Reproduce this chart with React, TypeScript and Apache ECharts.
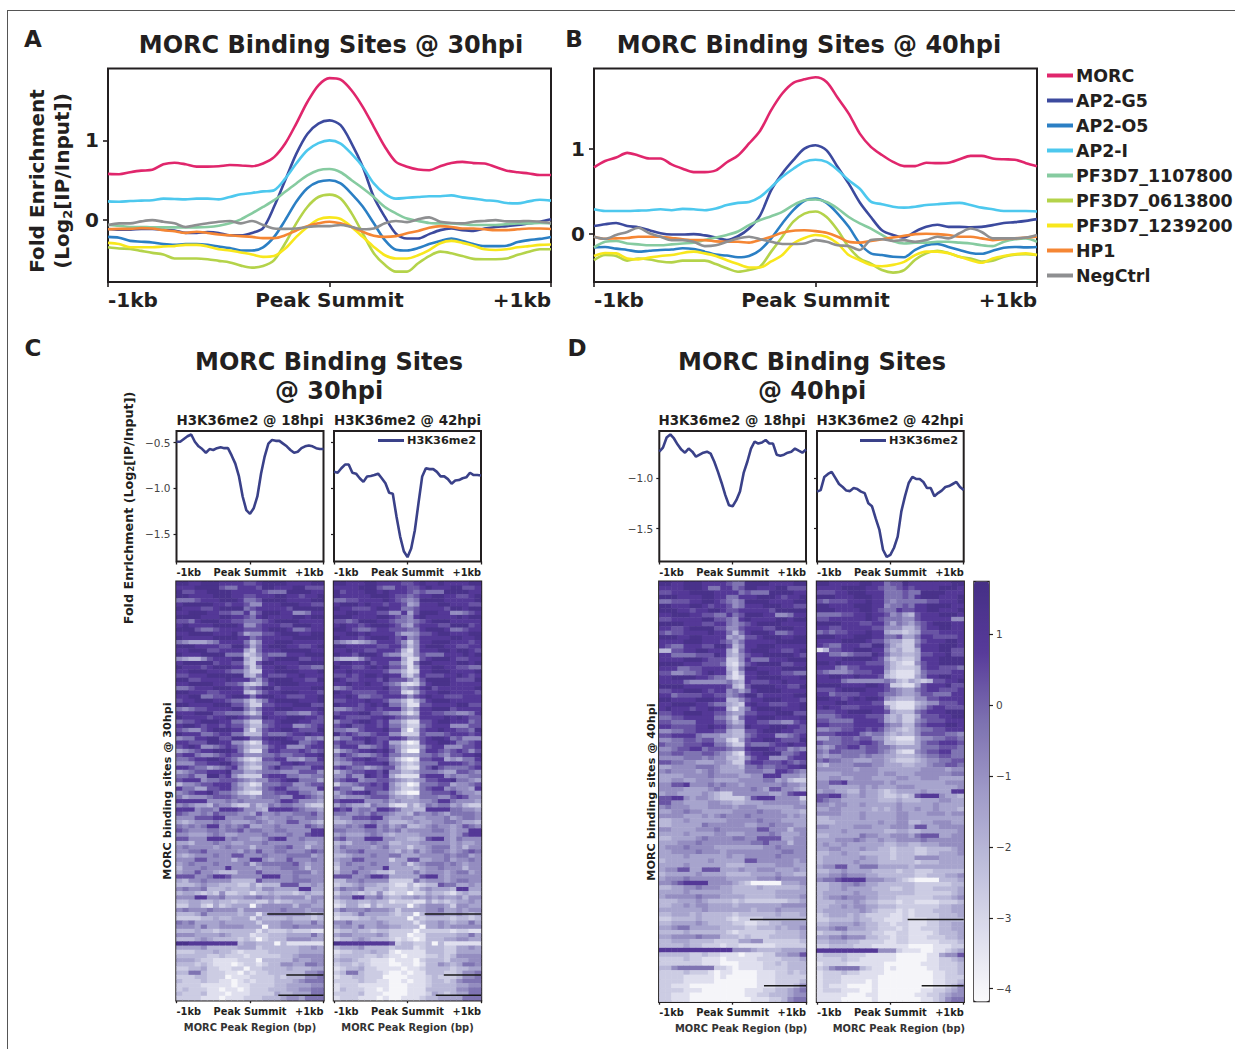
import React, { useEffect, useRef } from "react";
import * as echarts from "echarts";

const FONT = '"DejaVu Sans", sans-serif';
const INK = "#231f20";

const seriesNames = ["MORC","AP2-G5","AP2-O5","AP2-I","PF3D7_1107800","PF3D7_0613800","PF3D7_1239200","HP1","NegCtrl"];
const seriesColors = ["#e0266c","#3c4a9e","#2b7fc4","#4dc8ee","#86cba0","#b4d34a","#f8e71c","#f58634","#8e8f91"];

const a_MORC = [0.58,0.575,0.60,0.62,0.63,0.70,0.72,0.70,0.67,0.67,0.675,0.69,0.685,0.675,0.71,0.79,0.96,1.21,1.48,1.69,1.78,1.76,1.625,1.42,1.17,0.92,0.73,0.67,0.635,0.625,0.675,0.715,0.73,0.715,0.71,0.665,0.62,0.60,0.585,0.565,0.565];
const a_G5 = [-0.11,-0.12,-0.12,-0.11,-0.11,-0.12,-0.13,-0.16,-0.16,-0.15,-0.16,-0.19,-0.19,-0.16,-0.10,0.17,0.5,0.83,1.08,1.21,1.25,1.19,0.96,0.67,0.29,0.04,-0.17,-0.23,-0.23,-0.175,-0.125,-0.105,-0.125,-0.135,-0.105,-0.085,-0.075,-0.06,-0.04,-0.02,0.01];
const a_O5 = [-0.21,-0.22,-0.26,-0.27,-0.28,-0.30,-0.31,-0.30,-0.30,-0.31,-0.33,-0.35,-0.38,-0.38,-0.34,-0.21,0,0.23,0.40,0.48,0.50,0.46,0.33,0.17,-0.04,-0.25,-0.37,-0.38,-0.35,-0.30,-0.26,-0.23,-0.26,-0.30,-0.325,-0.325,-0.32,-0.275,-0.25,-0.235,-0.21];
const a_I = [0.235,0.23,0.24,0.245,0.25,0.27,0.265,0.26,0.27,0.27,0.26,0.29,0.325,0.34,0.36,0.375,0.52,0.71,0.875,0.965,1.0,0.96,0.83,0.67,0.46,0.33,0.27,0.28,0.29,0.30,0.30,0.31,0.285,0.27,0.25,0.24,0.215,0.21,0.235,0.255,0.245];
const a_1107800 = [-0.06,-0.07,-0.085,-0.085,-0.09,-0.09,-0.09,-0.09,-0.09,-0.085,-0.07,-0.04,0.01,0.085,0.165,0.25,0.355,0.46,0.56,0.625,0.64,0.60,0.50,0.40,0.29,0.165,0.085,0.02,-0.01,-0.035,-0.04,-0.04,-0.05,-0.06,-0.06,-0.06,-0.05,-0.04,-0.04,-0.035,-0.04];
const a_0613800 = [-0.34,-0.355,-0.36,-0.385,-0.41,-0.43,-0.48,-0.48,-0.48,-0.49,-0.51,-0.53,-0.57,-0.595,-0.575,-0.5,-0.29,-0.04,0.165,0.29,0.32,0.27,0.085,-0.165,-0.415,-0.56,-0.645,-0.645,-0.54,-0.45,-0.395,-0.415,-0.45,-0.485,-0.49,-0.49,-0.48,-0.435,-0.395,-0.365,-0.365];
const a_1239200 = [-0.285,-0.30,-0.34,-0.34,-0.34,-0.33,-0.325,-0.31,-0.31,-0.33,-0.365,-0.38,-0.405,-0.43,-0.46,-0.45,-0.355,-0.21,-0.085,0.01,0.035,0.015,-0.085,-0.21,-0.335,-0.44,-0.48,-0.48,-0.44,-0.375,-0.29,-0.26,-0.285,-0.32,-0.365,-0.375,-0.365,-0.34,-0.325,-0.31,-0.305];
const a_HP1 = [-0.115,-0.11,-0.11,-0.10,-0.105,-0.125,-0.14,-0.16,-0.145,-0.16,-0.18,-0.19,-0.20,-0.21,-0.225,-0.225,-0.19,-0.13,-0.075,-0.04,-0.02,-0.04,-0.085,-0.145,-0.195,-0.21,-0.2,-0.165,-0.135,-0.095,-0.075,-0.085,-0.105,-0.105,-0.115,-0.125,-0.125,-0.115,-0.105,-0.105,-0.11];
const a_Neg = [-0.06,-0.04,-0.04,-0.015,0,-0.02,-0.04,-0.085,-0.06,-0.04,-0.02,-0.01,-0.04,-0.01,-0.06,-0.105,-0.11,-0.105,-0.085,-0.075,-0.075,-0.06,-0.085,-0.115,-0.105,-0.04,-0.01,-0.025,0.01,0.035,-0.02,-0.035,-0.04,-0.02,-0.01,0,-0.015,-0.015,-0.01,-0.02,-0.035];

const b_MORC = [0.78,0.855,0.895,0.95,0.92,0.885,0.885,0.815,0.765,0.725,0.725,0.745,0.84,0.92,1.06,1.21,1.45,1.645,1.77,1.81,1.835,1.78,1.595,1.41,1.175,1.02,0.925,0.845,0.795,0.795,0.835,0.83,0.835,0.875,0.915,0.915,0.885,0.875,0.87,0.83,0.795];
const b_G5 = [0.095,0.115,0.13,0.095,0.08,0.045,0.01,-0.005,-0.005,0,-0.015,-0.04,-0.07,-0.025,0.065,0.22,0.515,0.71,0.865,1.0,1.04,0.98,0.785,0.59,0.37,0.2,0.045,-0.01,-0.04,0.03,0.085,0.11,0.085,0.085,0.08,0.085,0.105,0.13,0.14,0.155,0.175];
const b_O5 = [-0.155,-0.15,-0.17,-0.185,-0.205,-0.195,-0.185,-0.18,-0.165,-0.175,-0.205,-0.24,-0.25,-0.27,-0.255,-0.185,-0.05,0.125,0.28,0.39,0.415,0.365,0.24,0.085,-0.11,-0.225,-0.245,-0.265,-0.27,-0.185,-0.13,-0.115,-0.15,-0.185,-0.22,-0.23,-0.195,-0.16,-0.15,-0.155,-0.15];
const b_I = [0.29,0.27,0.27,0.27,0.275,0.28,0.29,0.28,0.295,0.29,0.28,0.30,0.34,0.365,0.375,0.435,0.55,0.67,0.765,0.845,0.87,0.845,0.75,0.63,0.53,0.38,0.35,0.32,0.31,0.32,0.34,0.35,0.36,0.365,0.34,0.31,0.29,0.27,0.27,0.27,0.265];
const b_1107800 = [-0.155,-0.09,-0.08,-0.11,-0.12,-0.13,-0.13,-0.12,-0.11,-0.10,-0.07,-0.04,-0.01,0.03,0.105,0.165,0.21,0.26,0.34,0.395,0.405,0.375,0.30,0.20,0.125,0.065,-0.01,-0.08,-0.11,-0.10,-0.10,-0.09,-0.09,-0.10,-0.11,-0.13,-0.14,-0.09,-0.06,-0.05,-0.09];
const b_0613800 = [-0.305,-0.245,-0.255,-0.31,-0.285,-0.295,-0.32,-0.33,-0.31,-0.31,-0.31,-0.35,-0.40,-0.44,-0.42,-0.38,-0.205,-0.03,0.145,0.24,0.265,0.2,0.045,-0.15,-0.285,-0.345,-0.42,-0.45,-0.42,-0.30,-0.225,-0.195,-0.22,-0.265,-0.285,-0.32,-0.31,-0.265,-0.24,-0.235,-0.245];
const b_1239200 = [-0.255,-0.22,-0.225,-0.285,-0.295,-0.275,-0.255,-0.245,-0.22,-0.205,-0.225,-0.255,-0.305,-0.35,-0.39,-0.39,-0.32,-0.245,-0.11,-0.045,-0.01,-0.03,-0.11,-0.245,-0.305,-0.36,-0.375,-0.36,-0.325,-0.245,-0.205,-0.205,-0.225,-0.265,-0.305,-0.335,-0.285,-0.255,-0.235,-0.225,-0.245];
const b_HP1 = [-0.03,-0.055,-0.05,-0.045,-0.03,-0.03,-0.03,-0.045,-0.06,-0.07,-0.07,-0.085,-0.09,-0.09,-0.10,-0.07,-0.03,0.015,0.04,0.045,0.035,0.015,-0.03,-0.09,-0.10,-0.08,-0.06,-0.04,-0.02,0,0.005,0,-0.01,-0.03,-0.03,-0.05,-0.07,-0.06,-0.05,-0.04,-0.03];
const b_Neg = [-0.03,-0.055,-0.01,0.025,0.075,0.01,-0.03,-0.07,-0.07,-0.09,-0.14,-0.13,-0.09,-0.05,-0.03,-0.06,-0.09,-0.115,-0.115,-0.11,-0.07,-0.09,-0.13,-0.14,-0.185,-0.07,-0.06,-0.08,-0.07,-0.09,-0.07,-0.03,-0.05,0.01,0.065,0.025,-0.05,-0.05,-0.05,-0.04,-0.01];

const c18Line = [-0.49,-0.49,-0.46,-0.43,-0.41,-0.49,-0.54,-0.57,-0.61,-0.57,-0.58,-0.56,-0.55,-0.56,-0.56,-0.64,-0.73,-0.87,-1.09,-1.24,-1.28,-1.22,-1.09,-0.84,-0.65,-0.51,-0.47,-0.48,-0.48,-0.51,-0.54,-0.58,-0.61,-0.60,-0.56,-0.54,-0.53,-0.54,-0.56,-0.57,-0.57];
const c42Line = [-0.82,-0.83,-0.78,-0.74,-0.74,-0.83,-0.84,-0.89,-0.93,-0.87,-0.865,-0.855,-0.84,-0.89,-0.945,-1.05,-1.06,-1.31,-1.53,-1.69,-1.755,-1.66,-1.46,-1.16,-0.87,-0.78,-0.79,-0.79,-0.82,-0.87,-0.87,-0.90,-0.95,-0.915,-0.91,-0.89,-0.88,-0.83,-0.855,-0.855,-0.86];
const d18Line = [-0.74,-0.70,-0.60,-0.57,-0.61,-0.67,-0.72,-0.75,-0.71,-0.74,-0.79,-0.77,-0.75,-0.74,-0.76,-0.84,-0.94,-1.05,-1.17,-1.27,-1.28,-1.22,-1.135,-0.95,-0.84,-0.71,-0.64,-0.66,-0.65,-0.625,-0.66,-0.66,-0.77,-0.78,-0.77,-0.75,-0.74,-0.71,-0.73,-0.75,-0.72];
const d42Line = [-1.135,-1.12,-0.99,-0.96,-0.94,-1.0,-1.06,-1.09,-1.125,-1.13,-1.10,-1.11,-1.135,-1.15,-1.25,-1.28,-1.40,-1.51,-1.71,-1.78,-1.76,-1.69,-1.58,-1.33,-1.18,-1.05,-0.99,-1.01,-1.01,-1.04,-1.10,-1.10,-1.18,-1.15,-1.125,-1.09,-1.08,-1.06,-1.04,-1.09,-1.12];

const heatLevels = [-4.0,-3.3,-2.7,-2.1,-1.5,-0.9,-0.3,0.3,0.9,1.5];
const colorStops = ["#fafafc","#dcdcec","#bcbcda","#9f9ac8","#7d71b0","#573a9a","#452f85"];

const heatC18 = [
"998899988887789999888899","888999976688879988899777","977889999888887666999988","998888999887788899887889","666788899986679999888899",
"899999887887558889998877","988877899996788888799999","889998877668579998855688","999988899887689888899899","776899988776667899998888",
"898888999985578887799988","999766788887778999866788","889999888974557789998899","988888999988678888899999","654445688886358899988888",
"999888877997468999887789","889997788884268889999988","988899996662357666888999","543357888994237899997788","899999788773279988889999",
"988878999885258899887766","889998887664228899998889","778889999994368777889888","997788889888647999988779","889999887763236899998888",
"667888999885679978888899","998887788883257889998887","889966778998689988777889","788999887664246899998889","998888999775227788899977",
"656778888996468899988889","888999776664248877665578","988887889987669888999887","677899988664227789998877","899878878775336788855678",
"765578999884147889987779","988866788663337666788988","566889977998668999877565","887779988553127889996678","789855678764335788555788",
"456788999863116887778767","788655678775556676677889","667889987642127788554668","555778899764346668898777","887664567853226797766688",
"456778889664456665557775","667559978532227888665566","788856677765455778996664","355677888643126667755677","866447788653346788665558",
"567889766532116677886654","645556777655456665588765","888885556565555568875554","565443655322534656655322","888566588875543888876554",
"765565766655475565566675","555777885556654555655665","434555655444565455775543","656568856567445565555765","765556656675665566555588",
"554445654455556555655788","775558885655445788556555","443555655445556555555445","565555456555355566755355","556675555546575566555676",
"434555655775556555666645","555775555355885455755565","456555655556356666675455","355565558555545556665355","455755433355575555566645",
"777556887555558885565555","435565555333375555566655","333454433322423337774454","565563334333435544448844","344323252233133433323433",
"555885564445565545555355","334433433233322423344454","224421423444045555535544","565556555535555556555455","333464444434414555555434",
"222233433444143333433323","656444454444424445544464","555464455554440445565555","333433233333313222322211","555444454333122333444464",
"333454333323202333555544","998888888834433303111111","444453333344423333334454","222333433212222333334444","333332232221222223345555",
"444322111122203333354455","333232111012212335544665","223342211220223333433344","336632221102122333333556","222332220111222232333556",
"322232211012122233345666","222211111011222233444455","232221101101222333445566","322231110111222243344466","222211101112223334554666"];

const heatC42 = [
"998889988887789889888899","888899976688778988899778","978889989888767666999988","988888999877678899887789","667788889876569999888889",
"899989887887458889988877","988777899886678888799899","889988877558479998855678","999888899876589888889899","776799988766567899988888",
"898878999875478887799978","998766788777668999866788","889989888864457789988899","988878999878568888899889","654345688875258899988878",
"998888877886358999887788","889887788873158889989987","988799986552257666888989","433357888884127899987788","899889788663169988889989",
"988778989775148899887766","889888887553128899988889","778789989884258777889878","987788879777537999987779","889889887652126899988888",
"567888889774568978888889","988777788772147889988887","889866778887578988777888","778889887553136899988888","988878989664117788889977",
"556778878885358899978888","788899776553138877665568","987777889876558888989877","577899878553117789988867","789778878664226788855577",
"665578889773037889887769","978766788552227666788878","466889877887557899867555","787779878442017889986678","688855678653225788555778",
"356788989752006887678757","687655678664446676577889","567889877531017788454668","455778889653236668888767","787664567742116797666678",
"356778879553346665447765","557559878421117888565566","678856677654345778896654","255677878532016667745567","766447778542236788565548",
"467889766421006677786554","545556777544346665578755","788885556454445568865554","465443655211424656645322","878566588764433888866554",
"665565766544365565466665","455777885445544555645665","334555655333454455665443","556568856456334565545765","665556656564555566545588",
"454445654344445555545788","675558885544334788546555","343555655334445555545445","465555456444244566645355","456675555435464566545676",
"334555655664445555656645","455775555244774455645565","356555655445245666565455","255565558444434556555355","355755433244464555456645",
"777556887444447885455555","335565555222264555456655","233454433211312337664454","465563334222324544438844","244323252122022433213433",
"455885564334454545445355","234433433122211423234454","124421423333034555425544","465556555424444556445455","233464444323303555445434",
"122233433333032333323323","556444454333313445434464","455464455443330445455555","233433233222202222212211","455444454222011333334464",
"233454333212101333445544","988888888723322303111111","344453333233312333224454","122333433101111333224444","233332232110111223235555",
"344322111011102333244455","233232111001101335434665","123342211110112333323344","236632221001011333223556","122332220000111232223556",
"222232211001011233235666","122211111000111233334455","132221101000111333335566","222231110000111243234466","122211101001112334444666"];

const heatD18 = [
"998899988887669999888899","888899986688679988899777","778889999888867666999988","999888899886688899987889","667778899876569999888899",
"998889987887568889998877","999887889987788888799999","889998877668679998855688","778888899776589888899899","999988877886567899998888",
"887789999775578887799988","767788889886368999866788","999889988884547789998899","888899988876468888899999","876688877997358899988888",
"337788998884268999887789","886666777984357889999987","888899987772258666888999","999988877762147899997788","888667788883269988889999",
"775566789884148899887766","889999887663128899998889","888865555556438777889888","999988888887327999988779","778899987885646899998888",
"886777788775679978888899","998888999883357889998887","889999887664328988777889","898887889883146899998889","778899988775447788899977",
"667788888664268899988889","776666888775348877665578","887777889886559888999887","556677888774337789998877","778888655544336788855678",
"556677677552147889987779","766677788664227666788988","556778867776558999877565","667766677654217889996678","555566656553325788555788",
"776655444554227887778767","445555666544436676677889","565555456544446665588765","444455556555544558885554","445544555444455556645322",
"557785556565545555556554","555544445655555654775543","455444454322555555445788","778854554322224788855552","775544445544334445555554",
"565554445555455544444455","445565544444555565554443","555544454565556555555454","334454444445555565554444","334444465555554455655544",
"554444555655555577555355","444454444554445555654445","334444565555665577774455","444555655555555667555355","455565555444444445565555",
"445555655545555555556655","444454444445445555565555","344444445444447755555545","444454444443334444455544","455774477744454455544454",
"344444544443333444454433","455565555554444455565555","556788885555432000004445","334455655544333343333334","444454444444333333344444",
"455555655544443333344445","333444543333232222222334","334454554444344444445555","444444454444444344454444","334443433333233333343334",
"223333433332122223333333","334444543333221122334444","445664444433332233343445","333343333332122222233334","445555655533323222333334",
"334443333222244552222223","333343322212211111122222","888888888888555433334444","333332232211101112244557",
"222232211101111122223334","222222211100011112232333","335666666221011112222333","222232221011000011122323",
"222211111010000011122222","222211111000000011122223","221110000000000011122235","222211100000001112233456",
"221110000000001122333455","221110000000000111223566"];

const heatD42 = [
"998888899886779888888899","888899998876678788889998","777889998886667669999888","999888999886667689998889","767778889886566666778889",
"998888999885667688999988","999888899876687788998889","666677889887564378889998","778888889876665578888855","999988877886465467899988",
"887788888775553357889988","676778889884332347778888","999888999886674468877778","888899998775442257888998","876688877996432268889998",
"137788999885342248889977","886656777986443347788977","888899999874232248889999","998988887775321157889999","888657788885322237887776",
"765556777884211136777788","889988988873211146889988","888865555556532432377889","999988889987221147888977","777899998887654467887778",
"886777788876654457766688","998878989985433355778888","888998888772211134557778","898877788885211145788777","777889999887433367888999",
"666788887774342247778899","776666888874342256777888","887777888886553367888998","556677887875432356677888","777888865664343357777665",
"446677677553211145566776","766677788763322246778887","545778867766544446667776","657766667765421156778866","545566656554433345667766",
"676655444554322234556677","435555666554443344566776","555555455544444445555455","444455555545544455555566","445544555444455445554444",
"557785555554544444444555","554444454544455544444445","455443354432344445444488","778854454432232378885443","765544444433343334445544",
"554554454444454444454444","445544444343454454454443","555544454444455444555455","334444454444455444444444","333444444454455334455544",
"554444555444555477445555","444454444443344334444445","334444465544555467774455","444555654454455556555555","454454444443344334445555",
"445544454433233322333345","334454433333233322334445","344444454433233355554444","344444544433333323334444","455774466644444344444444",
"334454444333323322233333","445565554433333322333445","566788885554432100003334","334455654433333322222233","334454444333223322233334",
"344444544433333322222234","345565554433322222233345","333444543322212211112223","334454554433322222223344","344444454322212122233344",
"234443432222112122223334","223333433221112111223333","334444543322122111223344","445664443322212112223344","233343333221122111123334",
"445565553322122111222334","334443322221122111112223","223333222111111000011122","888888888855521110011234",
"233332221111100000114557","222232211111100000112234","122221111110000001112223","235666632110100000112223",
"122232211110000000011223","122211111100000000011222","122211110100000000011223","121110000100000000011235","122211100100000001122345",
"111110001100000011223455","111100000100000001123566"];

// unmapped stretches: [start bp, end bp, depth in % of the rows]
const gapsC18 = [[234,1000,79.4],[494,1000,94],[385,1000,98.8]];
const gapsC42 = [[234,1000,79.4],[494,1000,94],[385,1000,98.8]];
const gapsD18 = [[236,1000,80.4],[427,1000,96.2]];
const gapsD42 = [[236,1000,80.4],[427,1000,96.2]];

const colorbarTicks = [1,0,-1,-2,-3,-4];
const xPos = a_MORC.map((_, i) => -1000 + i * 50);
const pts = (v: number[]) => v.map((y, i) => [xPos[i], y]);
const kb = (v: number) => (v === -1000 ? "-1kb" : v === 0 ? "Peak Summit" : "+1kb");
const kbVals = [-1000, 0, 1000];
const minus = (d: number) => (v: number) => v.toFixed(d).replace("-", "\u2212");

function buildOption() {
  const grid: any[] = [], xAxis: any[] = [], yAxis: any[] = [], series: any[] = [];
  const heatIdx: number[] = [];
  const frame = (l: number, t: number, w: number, h: number, bw = 2) => {
    grid.push({ left: l, top: t, width: w, height: h, show: true, borderColor: INK, borderWidth: bw, backgroundColor: "transparent" });
    return grid.length - 1;
  };
  const noLine = { show: false, onZero: false };
  const kbAxis = (g: number, size: number, margin: number, tick: number, name?: string, pad = 0) => ({
    type: "value", gridIndex: g, position: "bottom", min: -1000, max: 1000,
    axisLine: noLine, splitLine: { show: false },
    axisTick: { show: true, length: tick, customValues: kbVals, lineStyle: { color: INK, width: size > 12 ? 1.6 : 1.3 } },
    axisLabel: { show: true, customValues: kbVals, formatter: kb, margin, alignMinLabel: "left", alignMaxLabel: "right", color: INK, fontFamily: FONT, fontWeight: "bold", fontSize: size, hideOverlap: false, showMinLabel: true, showMaxLabel: true },
    name, nameLocation: "middle", nameGap: 22,
    nameTextStyle: { color: "#333", fontFamily: FONT, fontWeight: "bold", fontSize: 9.9, padding: [0, 0, 0, pad] },
  });

  const enrichment = (l: number, t: number, w: number, h: number, min: number, max: number, ticks: number[], lists: number[][]) => {
    const g = frame(l, t, w, h);
    xAxis.push(kbAxis(g, 20, 8, 5));
    yAxis.push({ type: "value", gridIndex: g, min, max, splitLine: { show: false }, axisLine: noLine,
      axisTick: { show: true, length: 5, customValues: ticks, lineStyle: { color: INK, width: 1.6 } },
      axisLabel: { customValues: ticks, margin: 9, color: INK, fontFamily: FONT, fontWeight: "bold", fontSize: 20 } });
    lists.forEach((v, i) => series.push({ type: "line", name: seriesNames[i], xAxisIndex: xAxis.length - 1, yAxisIndex: yAxis.length - 1,
      data: pts(v), smooth: 0.3, symbol: "none", silent: true, lineStyle: { color: seriesColors[i], width: 2.6 }, itemStyle: { color: seriesColors[i] } }));
  };
  enrichment(108, 68.5, 443, 213.5, -0.775, 1.9, [0, 1], [a_MORC, a_G5, a_O5, a_I, a_1107800, a_0613800, a_1239200, a_HP1, a_Neg]);
  enrichment(594, 68.5, 443, 213.5, -0.56, 1.937, [0, 1], [b_MORC, b_G5, b_O5, b_I, b_1107800, b_0613800, b_1239200, b_HP1, b_Neg]);

  const profile = (l: number, w: number, min: number, max: number, ticks: number[], labelled: boolean, v: number[]) => {
    const g = frame(l, 431, w, 130.5);
    xAxis.push(kbAxis(g, 9.8, 6, 3));
    yAxis.push({ type: "value", gridIndex: g, min, max, splitLine: { show: false }, axisLine: noLine,
      axisTick: { show: true, length: 3, customValues: ticks, lineStyle: { color: INK, width: 1.2 } },
      axisLabel: { show: labelled, customValues: ticks, formatter: minus(1), margin: 6, color: "#444", fontFamily: FONT, fontSize: 10.5 } });
    series.push({ type: "line", name: "H3K36me2", xAxisIndex: xAxis.length - 1, yAxisIndex: yAxis.length - 1, data: pts(v), symbol: "none", silent: true,
      lineStyle: { color: "#3a4189", width: 2.6 }, itemStyle: { color: "#3a4189" } });
  };
  profile(176.5, 147, -1.803, -0.372, [-0.5, -1, -1.5], true, c18Line);
  profile(334, 147, -1.803, -0.372, [-0.5, -1, -1.5], false, c42Line);
  profile(659.3, 146.7, -1.826, -0.536, [-1, -1.5], true, d18Line);
  profile(817, 146.7, -1.826, -0.536, [-1, -1.5], false, d42Line);

  const heat = (l: number, w: number, h: number, rows: string[], gaps: number[][], pad: number) => {
    const g = frame(l, 581.7, w, h, 2.4);
    const cols = rows[0].length;
    const catX = xAxis.length;
    xAxis.push({ type: "category", gridIndex: g, show: false, data: Array.from({ length: cols }, (_, i) => i) });
    const catY = yAxis.length;
    yAxis.push({ type: "category", gridIndex: g, show: false, inverse: true, data: rows.map((_, i) => i) });
    const data: number[][] = [];
    rows.forEach((r, y) => { for (let x = 0; x < cols && x < r.length; x++) data.push([x, y, heatLevels[+r[x]]]); });
    heatIdx.push(series.length);
    series.push({ type: "heatmap", xAxisIndex: catX, yAxisIndex: catY, data, progressive: 0, silent: true, itemStyle: { borderWidth: 0 } });
    const valX = xAxis.length;
    xAxis.push(kbAxis(g, 9.8, 6, 3, "MORC Peak Region (bp)", pad));
    const valY = yAxis.length;
    yAxis.push({ type: "value", gridIndex: g, show: false, inverse: true, min: 0, max: 100, splitLine: { show: false } });
    gaps.forEach((s) => series.push({ type: "line", name: "gap", xAxisIndex: valX, yAxisIndex: valY, data: [[s[0], s[2]], [s[1], s[2]]], symbol: "none", silent: true, z: 5, lineStyle: { color: "#1a1a1a", width: 1.5 } }));
  };
  heat(176.5, 147, 418.5, heatC18, gapsC18, 0);
  heat(334, 147, 418.5, heatC42, gapsC42, 0);
  heat(659.3, 146.7, 420, heatD18, gapsD18, 17);
  heat(817, 146.7, 420, heatD42, gapsD42, 17);

  const cb = frame(974, 581.5, 15, 420, 1.5);
  xAxis.push({ type: "value", gridIndex: cb, show: false, min: 0, max: 1 });
  yAxis.push({ type: "value", gridIndex: cb, position: "right", min: -4.18, max: 1.746, splitLine: { show: false }, axisLine: noLine,
    axisTick: { show: true, length: 4, customValues: colorbarTicks, lineStyle: { color: INK, width: 1.2 } },
    axisLabel: { customValues: colorbarTicks, formatter: minus(0), margin: 7, color: "#444", fontFamily: FONT, fontSize: 10.5 } });

  const titleFont = { fontFamily: FONT, fontWeight: "bold", color: INK } as any;
  const title = [
    { text: "MORC Binding Sites @ 30hpi", left: 331, top: 33, textAlign: "center", padding: 0, textStyle: { ...titleFont, fontSize: 24 } },
    { text: "MORC Binding Sites @ 40hpi", left: 809, top: 33, textAlign: "center", padding: 0, textStyle: { ...titleFont, fontSize: 24 } },
    { text: "MORC Binding Sites\n@ 30hpi", left: 329, top: 347, textAlign: "center", padding: 0, textStyle: { ...titleFont, fontSize: 24, lineHeight: 29 } },
    { text: "MORC Binding Sites\n@ 40hpi", left: 812, top: 347, textAlign: "center", padding: 0, textStyle: { ...titleFont, fontSize: 24, lineHeight: 29 } },
    { text: "H3K36me2 @ 18hpi", left: 250, top: 414, textAlign: "center", padding: 0, textStyle: { ...titleFont, fontSize: 13.4 } },
    { text: "H3K36me2 @ 42hpi", left: 407.5, top: 414, textAlign: "center", padding: 0, textStyle: { ...titleFont, fontSize: 13.4 } },
    { text: "H3K36me2 @ 18hpi", left: 732, top: 414, textAlign: "center", padding: 0, textStyle: { ...titleFont, fontSize: 13.4 } },
    { text: "H3K36me2 @ 42hpi", left: 890, top: 414, textAlign: "center", padding: 0, textStyle: { ...titleFont, fontSize: 13.4 } },
  ];

  const letter = (text: string, x: number, y: number) => ({ type: "text", x, y, silent: true, style: { text, fill: INK, font: `bold 23px ${FONT}`, align: "center", verticalAlign: "middle" } });
  const rotated = (text: string, x: number, y: number, size: number, extra: any = {}) => ({ type: "text", x, y, rotation: Math.PI / 2, silent: true,
    style: { text, fill: INK, font: `bold ${size}px ${FONT}`, align: "center", verticalAlign: "middle", ...extra } });
  const graphic = [
    { type: "line", silent: true, shape: { x1: 8, y1: 10.5, x2: 1235, y2: 10.5 }, style: { stroke: "#555", lineWidth: 1 } },
    { type: "line", silent: true, shape: { x1: 7.5, y1: 10, x2: 7.5, y2: 1049 }, style: { stroke: "#555", lineWidth: 1 } },
    letter("A", 33, 39), letter("B", 574, 39), letter("C", 33, 348), letter("D", 577, 348),
    rotated("Fold Enrichment\n(Log{sub|2}[IP/Input])", 49, 181, 20, { lineHeight: 25, rich: { sub: { fontSize: 13, fontWeight: "bold", fontFamily: FONT, fill: INK, verticalAlign: "bottom", padding: [8, 0, 0, 0] } } }),
    rotated("Fold Enrichment (Log{sub|2}[IP/Input])", 128, 508, 12.7, { rich: { sub: { fontSize: 8.5, fontWeight: "bold", fontFamily: FONT, fill: INK, padding: [5, 0, 0, 0] } } }),
    rotated("MORC binding sites @ 30hpi", 167, 791, 11.2),
    rotated("MORC binding sites @ 40hpi", 651, 792, 11.2),
  ];

  return {
    animation: false,
    textStyle: { fontFamily: FONT },
    title, grid, xAxis, yAxis, series, graphic,
    legend: [
      { data: seriesNames, orient: "vertical", left: 1047, top: 67, padding: 0, itemWidth: 26, itemHeight: 4, itemGap: 8, icon: "rect", selectedMode: false,
        formatter: (n: string) => n, textStyle: { color: INK, fontFamily: FONT, fontWeight: "bold", fontSize: 17.4, padding: [0, 0, 0, -2] } },
      { data: ["H3K36me2"], left: 378, top: 435, padding: 0, itemWidth: 26, itemHeight: 3, icon: "rect", selectedMode: false,
        textStyle: { color: INK, fontFamily: FONT, fontWeight: "bold", fontSize: 11.3, padding: [0, 0, 0, -2] } },
      { data: ["H3K36me2"], left: 860, top: 435, padding: 0, itemWidth: 26, itemHeight: 3, icon: "rect", selectedMode: false,
        textStyle: { color: INK, fontFamily: FONT, fontWeight: "bold", fontSize: 11.3, padding: [0, 0, 0, -2] } },
    ],
    visualMap: { type: "continuous", min: -4.18, max: 1.746, seriesIndex: heatIdx, inRange: { color: colorStops }, left: 974, top: 581.5, itemWidth: 15, itemHeight: 420, padding: 0, calculable: false, hoverLink: false, text: [] },
  };
}

export default function App() {
  const ref = useRef<HTMLDivElement>(null);
  useEffect(() => {
    document.body.style.margin = "0";
    const chart = echarts.init(ref.current!, undefined, { renderer: "svg" });
    chart.setOption(buildOption() as any);
    return () => chart.dispose();
  }, []);
  return <div ref={ref} style={{ width: 1235, height: 1049, background: "#fff" }} />;
}
